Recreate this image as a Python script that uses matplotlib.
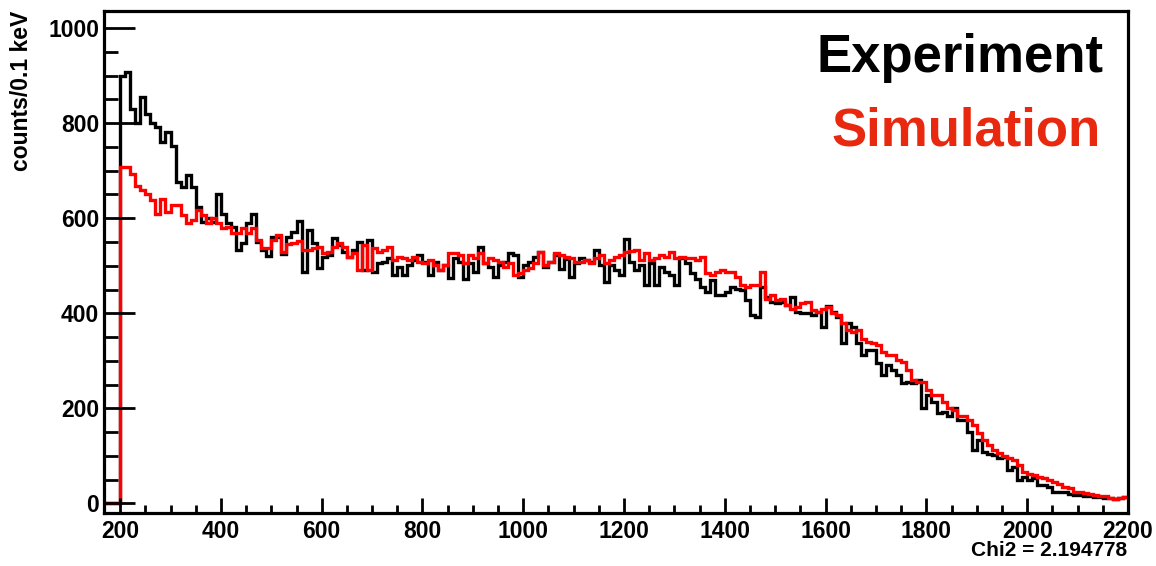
import numpy as np
import matplotlib
matplotlib.use("Agg")
import matplotlib.pyplot as plt
from matplotlib.ticker import MultipleLocator

plt.rcParams['font.family'] = ['Liberation Sans', 'DejaVu Sans']
plt.rcParams['font.weight'] = 'bold'

# Histogram binning: 10-unit bins; the first bins (160-200) are empty
bin_low, bin_high, bin_width = 160, 2200, 10
n_empty = 4

experiment = [
    900, 907, 830, 800, 855, 820, 800, 793, 761, 782,
    751, 677, 666, 691, 666, 624, 593, 600, 593, 652,
    610, 589, 582, 533, 547, 589, 610, 551, 533, 520,
    560, 560, 525, 560, 572, 595, 488, 575, 547, 495,
    519, 523, 558, 544, 530, 519, 533, 551, 491, 554,
    488, 505, 509, 516, 481, 498, 481, 502, 512, 523,
    509, 481, 509, 491, 502, 474, 516, 508, 473, 505,
    487, 540, 505, 498, 477, 501, 509, 526, 523, 477,
    501, 509, 519, 530, 498, 509, 523, 494, 515, 477,
    505, 516, 512, 509, 533, 501, 466, 501, 491, 480,
    557, 508, 491, 502, 459, 505, 459, 498, 487, 480,
    459, 516, 505, 484, 473, 456, 445, 470, 438, 438,
    445, 456, 452, 449, 428, 396, 393, 456, 435, 424,
    421, 424, 417, 435, 403, 400, 400, 396, 403, 372,
    415, 403, 393, 337, 379, 372, 337, 312, 323, 323,
    295, 270, 291, 281, 270, 253, 256, 253, 260, 200,
    228, 214, 190, 193, 183, 200, 176, 176, 151, 112,
    133, 109, 105, 102, 95, 98, 70, 77, 49, 56,
    49, 53, 39, 39, 35, 25, 25, 25, 20, 18,
    18, 16, 16, 14, 14, 11, 11, 9, 11, 13,
]

simulation = [
    708, 708, 694, 668, 659, 652, 638, 610, 640, 614,
    627, 627, 607, 589, 597, 617, 607, 589, 600, 589,
    579, 582, 570, 568, 579, 568, 579, 554, 537, 537,
    554, 565, 530, 545, 547, 553, 533, 533, 537, 540,
    526, 530, 540, 547, 540, 519, 526, 491, 544, 491,
    537, 530, 533, 540, 512, 519, 516, 512, 519, 509,
    505, 512, 502, 491, 502, 526, 526, 523, 505, 523,
    516, 526, 505, 516, 512, 509, 498, 505, 480, 484,
    491, 495, 505, 530, 502, 509, 526, 523, 519, 516,
    509, 509, 512, 505, 516, 523, 505, 512, 519, 523,
    530, 531, 533, 512, 526, 512, 516, 523, 519, 530,
    516, 519, 516, 516, 512, 519, 484, 480, 488, 491,
    488, 488, 477, 459, 456, 459, 459, 488, 431, 438,
    428, 431, 417, 410, 414, 421, 424, 407, 403, 410,
    414, 400, 396, 379, 365, 361, 365, 347, 340, 337,
    333, 319, 312, 312, 302, 298, 281, 260, 256, 256,
    239, 228, 228, 214, 200, 197, 183, 183, 175, 165,
    148, 134, 123, 112, 106, 99, 95, 91, 81, 67,
    63, 60, 56, 53, 49, 46, 42, 35, 32, 25,
    25, 23, 21, 18, 16, 15, 11, 9, 11, 14,
]

x_ticks = [200, 400, 600, 800, 1000, 1200, 1400, 1600, 1800, 2000, 2200]
y_ticks = [0, 200, 400, 600, 800, 1000]
chi2 = 2.194778

edges = np.arange(bin_low, bin_high + bin_width, bin_width)
exp_vals = np.concatenate([np.zeros(n_empty), experiment])
sim_vals = np.concatenate([np.zeros(n_empty), simulation])

W, H = 1156, 566
fig = plt.figure(figsize=(W / 100, H / 100), dpi=100)
left, right, top, bottom = 103.5, 1128, 11, 513
ax = fig.add_axes([left / W, 1 - bottom / H, (right - left) / W, (bottom - top) / H])

lw = 2.4
p1 = ax.stairs(exp_vals, edges, color='black', linewidth=lw, baseline=None)
p2 = ax.stairs(sim_vals, edges, color='#ff0000', linewidth=lw, baseline=None)
for p in (p1, p2):
    p.set_joinstyle('miter')

ax.set_xlim(167, 2200)
ax.set_ylim(-20, 1036)

ax.set_xticks(x_ticks)
ax.set_yticks(y_ticks)
ax.xaxis.set_minor_locator(MultipleLocator(50))
ax.yaxis.set_minor_locator(MultipleLocator(50))

for s in ax.spines.values():
    s.set_linewidth(2.3)

ax.tick_params(axis='x', which='major', direction='in', length=11, width=2.0,
               labelsize=16.5, pad=5)
ax.tick_params(axis='x', which='minor', direction='in', length=5.5, width=2.0)
ax.tick_params(axis='y', which='major', direction='in', length=22, width=2.0,
               labelsize=16.5, pad=3)
ax.tick_params(axis='y', which='minor', direction='in', length=10, width=2.0)
for lab in ax.get_xticklabels() + ax.get_yticklabels():
    lab.set_fontweight('bold')

fig.text(22 / W, 1 - top / H, 'counts/0.1 keV', rotation=90, ha='center', va='top',
         fontsize=16.5, fontweight='bold')
fig.text(1127 / W, 1 - 551 / H, f'Chi2 = {chi2:.6f}', ha='right', va='center',
         fontsize=15, fontweight='bold')

fig.text(1103 / W, 1 - 72 / H, 'Experiment', ha='right', va='baseline',
         fontsize=38, fontweight='bold', color='black')
fig.text(1101 / W, 1 - 145 / H, 'Simulation', ha='right', va='baseline',
         fontsize=38, fontweight='bold', color='#e8280f')

fig.savefig('out.png', dpi=100)
